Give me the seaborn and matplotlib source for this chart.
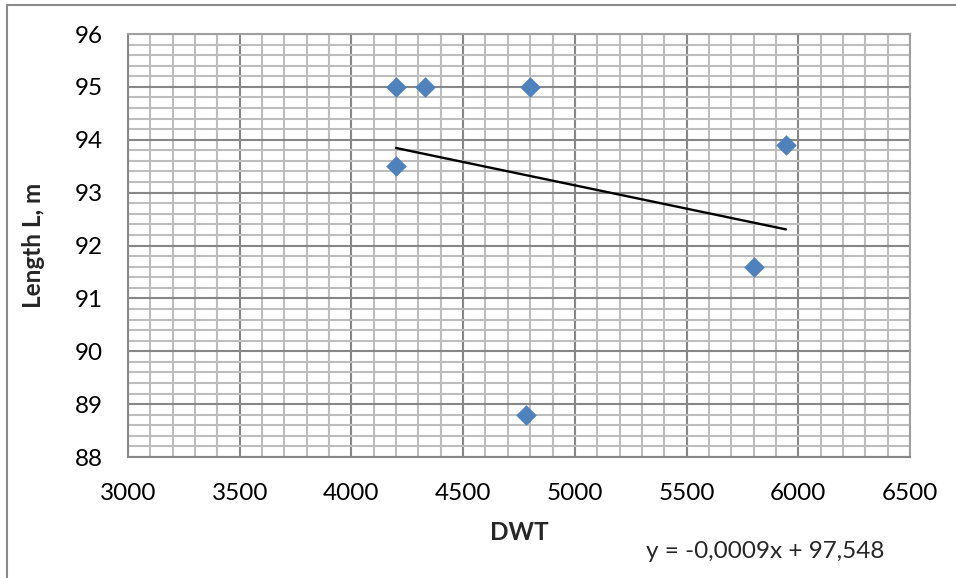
import numpy as np
import pandas as pd
import matplotlib
matplotlib.use("Agg")
import matplotlib.pyplot as plt
from matplotlib.lines import Line2D
import seaborn as sns

dwt = [4200, 4330, 4800, 4200, 5945, 5800, 4780]
length = [95.0, 95.0, 95.0, 93.5, 93.9, 91.6, 88.8]
x_ticks = [3000, 3500, 4000, 4500, 5000, 5500, 6000, 6500]
y_ticks = [88, 89, 90, 91, 92, 93, 94, 95, 96]
equation = "y = -0,0009x + 97,548"

df = pd.DataFrame({"DWT": dwt, "L": length})

sns.set_style("white")
plt.rcParams["font.family"] = ["Lato", "DejaVu Sans"]

fs = 17.5
fig = plt.figure(figsize=(9.56, 5.78), dpi=100)
ax = fig.add_axes([128/956, 1-457/578, (910-128)/956, (457-34)/578])

ax.set_xlim(3000, 6500)
ax.set_ylim(88, 96)
ax.set_xticks(x_ticks)
ax.set_yticks(y_ticks)
ax.set_xticks(np.arange(3000, 6501, 100), minor=True)
ax.set_yticks(np.arange(88, 96.01, 0.2), minor=True)
ax.grid(which="minor", color="#bdbdbd", linewidth=1.5, zorder=0)
ax.grid(which="major", color="#878787", linewidth=1.5, zorder=0)
ax.set_axisbelow(True)

for s in ["left", "bottom"]:
    ax.spines[s].set_color("#878787")
    ax.spines[s].set_linewidth(1.5)
for s in ["right", "top"]:
    ax.spines[s].set_color("#a0a0a0")
    ax.spines[s].set_linewidth(1.5)

ax.tick_params(axis="both", which="major", direction="out", length=6, width=1.3,
               color="#878787", labelsize=fs, labelcolor="black")
ax.tick_params(axis="x", which="major", pad=13)
ax.tick_params(axis="y", which="major", pad=12)
ax.tick_params(which="minor", length=0)

sns.regplot(data=df, x="DWT", y="L", scatter=False, ci=None, ax=ax,
            line_kws=dict(color="black", linewidth=1.7, zorder=3))
sns.scatterplot(data=df, x="DWT", y="L", marker="D", s=110, color="#4f81bd",
                linewidth=0, ax=ax, zorder=4)

ax.set_xlabel("DWT", fontsize=fs, fontweight="bold", labelpad=12)
ax.set_ylabel("Length L, m", fontsize=fs, fontweight="bold")
ax.yaxis.set_label_coords(-(128-45)/782, 0.5)

fig.text(765/956, 1-552/578, equation, fontsize=fs, ha="center", va="center")

fig.add_artist(Line2D([7/956, 7/956], [0, 1-5/578], transform=fig.transFigure,
                      color="#8a8a8a", linewidth=1.5))
fig.add_artist(Line2D([7/956, 1], [1-5/578, 1-5/578], transform=fig.transFigure,
                      color="#8a8a8a", linewidth=1.5))

fig.savefig("out.png", dpi=100)
